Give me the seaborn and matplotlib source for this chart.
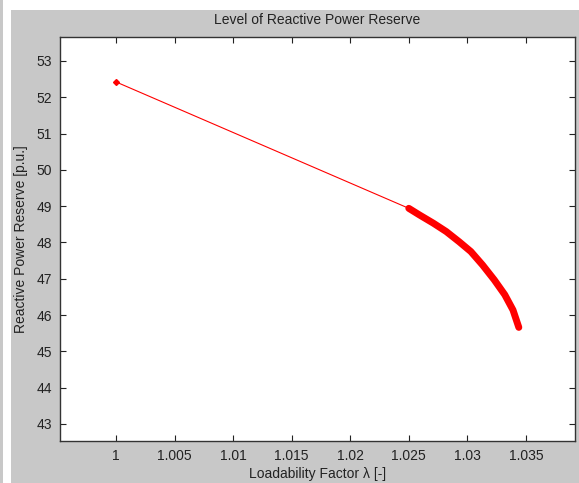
import matplotlib
matplotlib.use("Agg")
import matplotlib.pyplot as plt
import seaborn as sns
import pandas as pd
from matplotlib.patches import Rectangle

sns.set_style("ticks")
plt.rcParams['font.family'] = ['Liberation Sans', 'DejaVu Sans']

# data
lam = [1.0, 1.0250, 1.0259, 1.0271, 1.0282, 1.0293, 1.0303, 1.0313,
       1.0323, 1.0332, 1.0339, 1.0344]
qres = [52.42, 48.94, 48.76, 48.53, 48.30, 48.02, 47.75, 47.38,
        46.97, 46.56, 46.14, 45.66]
xticks = [1, 1.005, 1.01, 1.015, 1.02, 1.025, 1.03, 1.035]
xticklabels = ["1", "1.005", "1.01", "1.015", "1.02", "1.025", "1.03", "1.035"]
yticks = [43, 44, 45, 46, 47, 48, 49, 50, 51, 52, 53]

df = pd.DataFrame({"lam": lam, "q": qres})
curve = df.iloc[1:]

W, H = 579, 483
fig = plt.figure(figsize=(W / 100, H / 100), dpi=100, facecolor="white")
gray = "#c8c8c8"
fig.patches.append(Rectangle((11 / W, 0), 1 - 11 / W, 1 - 10 / H, transform=fig.transFigure,
                             facecolor=gray, edgecolor="none", zorder=-10))
fig.patches.append(Rectangle((0, 0), 3 / W, 1, transform=fig.transFigure,
                             facecolor=gray, edgecolor="none", zorder=-10))

ax = fig.add_axes([60 / W, 1 - 441 / H, (575 - 60) / W, (441 - 37) / H])
ax.set_facecolor("white")

sns.lineplot(data=df, x="lam", y="q", ax=ax, color="red", linewidth=0.8, sort=False)
sns.lineplot(data=curve, x="lam", y="q", ax=ax, color="red", linewidth=5.0, sort=False,
             solid_capstyle="round", solid_joinstyle="round")
ax.plot([lam[0]], [qres[0]], marker="D", markersize=3, color="red")

ax.set_xlim(0.9952, 1.0392)
ax.set_ylim(42.53, 53.66)
ax.set_xticks(xticks)
ax.set_xticklabels(xticklabels)
ax.set_yticks(yticks)
ax.tick_params(direction="in", length=4, width=0.8, labelsize=10, colors="#222222",
               top=True, right=True, pad=6)
for s in ax.spines.values():
    s.set_color("#333333")
    s.set_linewidth(1.0)

ax.set_xlabel("Loadability Factor λ [-]", fontsize=10, color="#222222", labelpad=3)
ax.set_ylabel("Reactive Power Reserve [p.u.]", fontsize=10, color="#222222", labelpad=6)
ax.set_title("Level of Reactive Power Reserve", fontsize=10, color="#222222", pad=9)

fig.savefig("out.png", dpi=100, facecolor=fig.get_facecolor())
